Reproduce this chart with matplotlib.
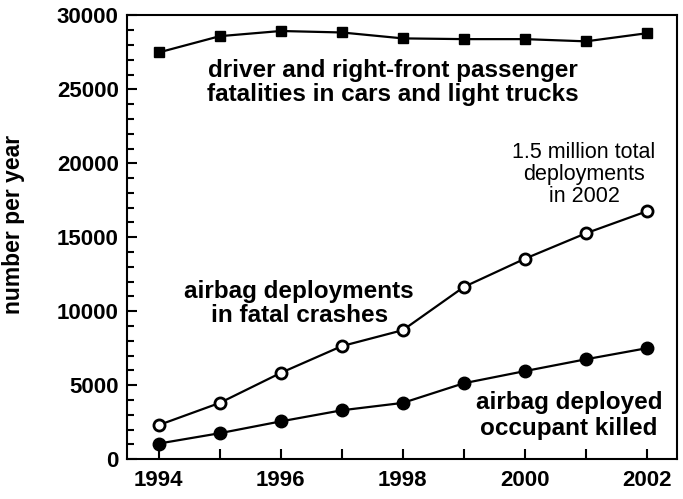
import matplotlib
matplotlib.use('Agg')
import matplotlib.pyplot as plt
from matplotlib.ticker import MultipleLocator

years = [1994, 1995, 1996, 1997, 1998, 1999, 2000, 2001, 2002]
fatalities = [27500, 28600, 28950, 28850, 28450, 28400, 28400, 28250, 28800]
deployments = [2300, 3800, 5830, 7640, 8720, 11640, 13550, 15270, 16760]
deployed_killed = [1050, 1750, 2550, 3300, 3800, 5130, 5950, 6750, 7500]

plt.rcParams['font.family'] = ['Liberation Sans', 'DejaVu Sans']

fig = plt.figure(figsize=(6.83, 4.99), dpi=100)
ax = fig.add_axes([0.186, 0.080, 0.805, 0.889])

ax.plot(years, fatalities, color='black', lw=1.6, marker='s', ms=7,
        mfc='black', mec='black')
ax.plot(years, deployments, color='black', lw=1.6, marker='o', ms=8,
        mfc='white', mec='black', mew=2)
ax.plot(years, deployed_killed, color='black', lw=1.6, marker='o', ms=9,
        mfc='black', mec='black')

ax.set_xlim(1993.48, 2002.49)
ax.set_ylim(0, 30000)
ax.set_xticks(range(1994, 2003, 2))
ax.xaxis.set_minor_locator(MultipleLocator(1))
ax.yaxis.set_major_locator(MultipleLocator(5000))
ax.yaxis.set_minor_locator(MultipleLocator(1000))
ax.tick_params(which='both', direction='in', width=1.5)
ax.tick_params(which='major', length=7, labelsize=16)
ax.tick_params(axis='y', which='major', pad=6)
ax.tick_params(axis='x', which='major', pad=8)
ax.tick_params(which='minor', length=5)
ax.tick_params(axis='x', which='minor', length=7)
for lab in ax.get_xticklabels() + ax.get_yticklabels():
    lab.set_fontweight('bold')
for sp in ax.spines.values():
    sp.set_linewidth(1.5)

ax.set_ylabel('number per year', fontsize=16.5, fontweight='bold')
ax.yaxis.set_label_coords(-0.185, 0.53)

ax.text(1997.84, 25450, 'driver and right-front passenger\nfatalities in cars and light trucks',
        ha='center', va='center', fontsize=17.5, fontweight='bold', linespacing=1.05)
ax.text(1996.3, 10500, 'airbag deployments\nin fatal crashes',
        ha='center', va='center', fontsize=17.5, fontweight='bold', linespacing=1.05)
ax.text(2000.72, 2950, 'airbag deployed\noccupant killed',
        ha='center', va='center', fontsize=17.5, fontweight='bold', linespacing=1.15)
ax.text(2000.97, 19260, '1.5 million total\ndeployments\nin 2002',
        ha='center', va='center', fontsize=15.5, linespacing=1.08)

fig.savefig('out.png', dpi=100)
